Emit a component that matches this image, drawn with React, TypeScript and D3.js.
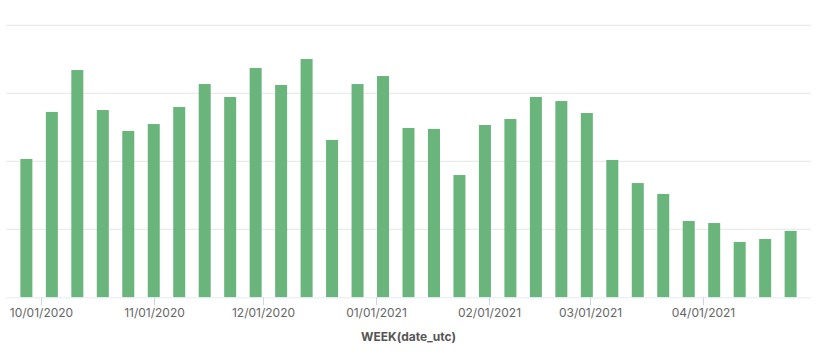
import React from "react";
import * as d3 from "d3";

const weeks: string[] = [
  "2020-09-27","2020-10-04","2020-10-11","2020-10-18","2020-10-25","2020-11-01","2020-11-08","2020-11-15",
  "2020-11-22","2020-11-29","2020-12-06","2020-12-13","2020-12-20","2020-12-27","2021-01-03","2021-01-10",
  "2021-01-17","2021-01-24","2021-01-31","2021-02-07","2021-02-14","2021-02-21","2021-02-28","2021-03-07",
  "2021-03-14","2021-03-21","2021-03-28","2021-04-04","2021-04-11","2021-04-18","2021-04-25",
];
const values: number[] = [
  101.7, 136.3, 167.1, 137.7, 122.3, 127.4, 139.9, 156.8,
  147.3, 168.6, 156.1, 175.2, 115.7, 156.8, 162.7, 124.5,
  123.8, 89.9, 126.7, 131.1, 147.3, 144.3, 135.5, 101.0,
  84.0, 76.0, 56.1, 54.6, 40.7, 42.9, 48.8,
];
const yTicks: number[] = [0, 50, 100, 150, 200];
const xTickDates: string[] = ["2020-10-01","2020-11-01","2020-12-01","2021-01-01","2021-02-01","2021-03-01","2021-04-01"];
const xTitle = "WEEK(date_utc)";

const W = 823, H = 354;
const left = 6, right = 811, top = 25.3, bottom = 297.3;

export default function App() {
  const parse = (s: string) => new Date(s + "T00:00:00Z");
  const dates = weeks.map(parse);
  const padDays = 5.6;
  const x = d3.scaleUtc()
    .domain([d3.utcDay.offset(dates[0], 0) .getTime() - padDays * 864e5, dates[dates.length - 1].getTime() + padDays * 864e5])
    .range([left, right]);
  const y = d3.scaleLinear().domain([0, 200]).range([bottom, top]);
  const barW = 12;
  const fmt = d3.utcFormat("%m/%d/%Y");
  return (
    <svg width={W} height={H} style={{ position: "absolute", left: 0, top: 0, fontFamily: "Inter, sans-serif" }}>
      {yTicks.slice(1).map((t) => (
        <line key={t} x1={left} x2={right} y1={y(t)} y2={y(t)} stroke="#e6e6e6" strokeWidth={1} />
      ))}
      {dates.map((d, i) => (
        <rect key={i} x={x(d) - barW / 2} y={y(values[i])} width={barW} height={y(0) - y(values[i])} fill="#69b57c" />
      ))}
      <line x1={left} x2={right} y1={bottom + 0.5} y2={bottom + 0.5} stroke="#e6ebf3" strokeWidth={1} />
      {xTickDates.map((s) => {
        const d = parse(s);
        const xx = Math.round(x(d)) + 0.5;
        return (
          <g key={s}>
            <line x1={xx} x2={xx} y1={bottom} y2={bottom + 8} stroke="#ccd6eb" strokeWidth={1} />
            <text x={xx} y={316.5} textAnchor="middle" fontSize={12} fill="#666666">{fmt(d)}</text>
          </g>
        );
      })}
      <text x={(left + right) / 2} y={340.5} textAnchor="middle" fontSize={12} fontWeight={700} fill="#555555">{xTitle}</text>
    </svg>
  );
}
